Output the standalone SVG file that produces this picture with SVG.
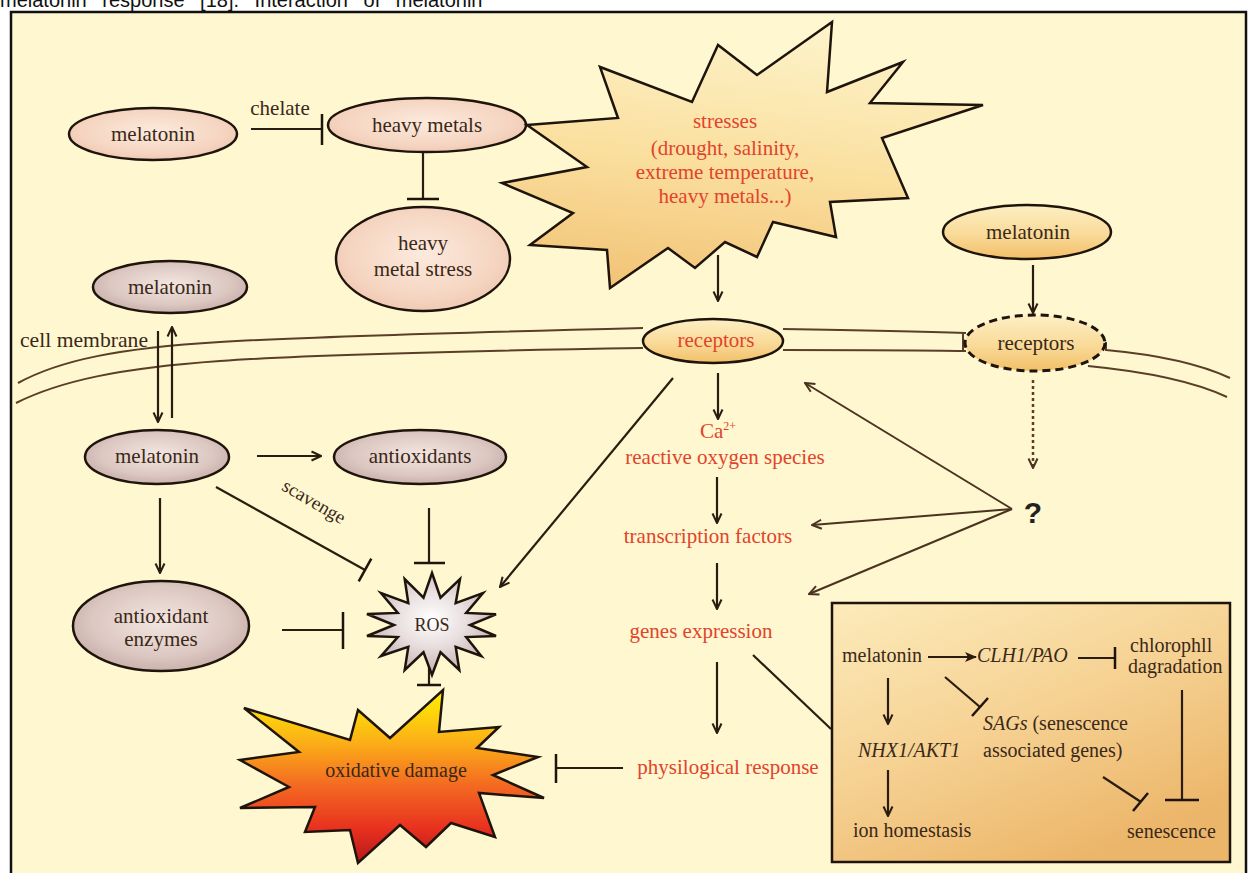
<svg xmlns="http://www.w3.org/2000/svg" width="1248" height="873" viewBox="0 0 1248 873">
<defs>
<style>
.lbl{font-family:"Liberation Serif","Times New Roman",serif;font-size:21px;fill:#3a2818;text-anchor:middle}
.red{font-family:"Liberation Serif","Times New Roman",serif;font-size:21px;fill:#e2432b;text-anchor:middle}
.bx{font-family:"Liberation Serif","Times New Roman",serif;font-size:20px;fill:#3a2818}
.it{font-style:italic}
.ln{stroke:#2a1c10;stroke-width:2.2;fill:none}
.lnb{stroke:#4a3420;stroke-width:2;fill:none}
.edge{stroke:#1f140b;stroke-width:2.5}
.mem{stroke:#5a3e26;stroke-width:2;fill:none}
</style>
<radialGradient id="gPink" cx="50%" cy="45%" r="60%"><stop offset="0" stop-color="#FCEADD"/><stop offset="0.7" stop-color="#F5D5C1"/><stop offset="1" stop-color="#EEC5AE"/></radialGradient>
<radialGradient id="gMauve" cx="50%" cy="45%" r="60%"><stop offset="0" stop-color="#F3E6E1"/><stop offset="0.65" stop-color="#DCC7C1"/><stop offset="1" stop-color="#C4AAA6"/></radialGradient>
<linearGradient id="gGold" x1="0" y1="0" x2="0" y2="1"><stop offset="0" stop-color="#FDEFC4"/><stop offset="0.55" stop-color="#F9DA98"/><stop offset="1" stop-color="#F2BF68"/></linearGradient>
<linearGradient id="gStress" x1="0.4" y1="0" x2="0.2" y2="1"><stop offset="0" stop-color="#FDF2C8"/><stop offset="0.5" stop-color="#FADF9E"/><stop offset="1" stop-color="#F2C275"/></linearGradient>
<radialGradient id="gROS" cx="50%" cy="45%" r="55%"><stop offset="0" stop-color="#FFFFFF"/><stop offset="0.5" stop-color="#E8DEDE"/><stop offset="1" stop-color="#C2B0B0"/></radialGradient>
<linearGradient id="gOx" x1="0" y1="0" x2="0" y2="1"><stop offset="0" stop-color="#FFF200"/><stop offset="0.3" stop-color="#FBB017"/><stop offset="0.55" stop-color="#F46A22"/><stop offset="0.8" stop-color="#E8311F"/><stop offset="1" stop-color="#B51818"/></linearGradient>
<linearGradient id="gBox" x1="0" y1="0" x2="0.6" y2="1"><stop offset="0" stop-color="#FCEBBB"/><stop offset="0.5" stop-color="#F6D395"/><stop offset="1" stop-color="#ECB66A"/></linearGradient>
<marker id="arr" viewBox="0 0 12 12" refX="11" refY="6" markerWidth="12" markerHeight="12" markerUnits="userSpaceOnUse" orient="auto"><path d="M1.5,1.5 L11,6 L1.5,10.5" fill="none" stroke="#2a1c10" stroke-width="2"/></marker>
<marker id="arrB" viewBox="0 0 12 12" refX="11" refY="6" markerWidth="12" markerHeight="12" markerUnits="userSpaceOnUse" orient="auto"><path d="M1.5,1.5 L11,6 L1.5,10.5" fill="none" stroke="#4a3420" stroke-width="2"/></marker>
<marker id="arrF" viewBox="0 0 12 12" refX="11" refY="6" markerWidth="12" markerHeight="12" markerUnits="userSpaceOnUse" orient="auto"><path d="M0,1 L12,6 L0,11 L3,6 z" fill="#2a1c10"/></marker>
</defs>

<rect x="0" y="0" width="1248" height="873" fill="#ffffff"/>
<text x="0" y="7" font-family="'Liberation Sans',Arial,sans-serif" font-size="20" word-spacing="10" fill="#111">melatonin response [18]. Interaction of melatonin</text>
<rect x="11" y="12" width="1235" height="863" fill="#FEF7D0" stroke="#111" stroke-width="2.5"/>

<g id="membrane">
<path class="mem" d="M18,383 C60,360 120,348 220,342 S520,331 643,328"/>
<path class="mem" d="M16,403 C60,381 120,368 220,361 S520,350 643,348"/>
<path class="mem" d="M783,329 C850,330 910,331 966,333"/>
<path class="mem" d="M783,350 C850,350 910,350 966,351"/>
<path class="mem" d="M963,333 L963,352"/>
<path class="mem" d="M1106,342 L1106,350 C1160,355 1200,364 1230,378"/>
<path class="mem" d="M1088,366 C1150,372 1195,382 1227,397"/>
</g>

<g id="connectors">
<line class="ln" x1="251" y1="129" x2="322" y2="129"/><line class="edge" x1="322" y1="114" x2="322" y2="145"/>
<line class="ln" x1="423" y1="153" x2="423" y2="199"/><line class="edge" x1="407" y1="199" x2="439" y2="199"/>
<line class="ln" x1="718" y1="255" x2="718" y2="301" marker-end="url(#arr)"/>
<line class="ln" x1="1033" y1="265" x2="1033" y2="313" marker-end="url(#arr)"/>
<line class="ln" x1="158" y1="331" x2="158" y2="422" marker-end="url(#arr)"/>
<line class="ln" x1="172" y1="418" x2="172" y2="327" marker-end="url(#arr)"/>
<line class="ln" x1="257" y1="456" x2="321" y2="456" marker-end="url(#arr)"/>
<line class="ln" x1="160" y1="498" x2="160" y2="573" marker-end="url(#arr)"/>
<line class="ln" x1="216" y1="487" x2="365" y2="570"/><line class="edge" x1="358.7" y1="581.4" x2="371.3" y2="558.6"/>
<line class="ln" x1="429" y1="508" x2="429" y2="563"/><line class="edge" x1="414" y1="563" x2="445" y2="563"/>
<line class="ln" x1="282" y1="630" x2="343" y2="630"/><line class="edge" x1="343" y1="612" x2="343" y2="649"/>
<line class="ln" x1="429" y1="658" x2="429" y2="685"/><line class="edge" x1="417" y1="685" x2="441" y2="685"/>
<line class="ln" x1="673" y1="378" x2="500" y2="587" marker-end="url(#arr)"/>
<line class="ln" x1="718" y1="373" x2="718" y2="419" marker-end="url(#arr)"/>
<line class="ln" x1="717" y1="477" x2="717" y2="523" marker-end="url(#arr)"/>
<line class="ln" x1="717" y1="563" x2="717" y2="609" marker-end="url(#arr)"/>
<line class="ln" x1="717" y1="662" x2="717" y2="733" marker-end="url(#arr)"/>
<line class="ln" x1="623" y1="768" x2="556" y2="768"/><line class="edge" x1="556" y1="754" x2="556" y2="783"/>
<line class="ln" x1="753" y1="655" x2="831" y2="729"/>
<line stroke="#5a3e26" stroke-width="2.5" stroke-dasharray="3,3" x1="1033" y1="380" x2="1033" y2="468" marker-end="url(#arrB)"/>
<line class="lnb" x1="1012" y1="509" x2="805" y2="383" marker-end="url(#arrB)"/>
<line class="lnb" x1="1012" y1="509" x2="812" y2="525" marker-end="url(#arrB)"/>
<line class="lnb" x1="1012" y1="509" x2="809" y2="594" marker-end="url(#arrB)"/>
</g>

<g id="node-melatonin-top">
<ellipse cx="153" cy="134" rx="84" ry="26" fill="url(#gPink)" class="edge"/>
<text class="lbl" x="153" y="141">melatonin</text>
</g>
<text class="lbl" x="280" y="115">chelate</text>
<g id="node-heavy-metals">
<ellipse cx="427" cy="125" rx="99" ry="27" fill="url(#gPink)" class="edge"/>
<text class="lbl" x="427" y="132">heavy metals</text>
</g>
<g id="node-heavy-metal-stress">
<ellipse cx="423" cy="259" rx="87" ry="52" fill="url(#gPink)" class="edge"/>
<text class="lbl" x="423" y="250">heavy</text>
<text class="lbl" x="423" y="276">metal stress</text>
</g>

<g id="node-stresses">
<polygon class="edge" fill="url(#gStress)" stroke-linejoin="miter" points="527,125 618,118 600,67 692,102 718,45 757,75 832,22 827,92 903,62 870,103 983,105 882,138 908,198 830,202 836,237 773,222 757,257 725,242 695,268 668,248 610,288 607,250 530,245 573,213 502,183 587,167"/>
<text class="red" x="725" y="128">stresses</text>
<text class="red" x="725" y="155">(drought, salinity,</text>
<text class="red" x="725" y="179">extreme temperature,</text>
<text class="red" x="725" y="203">heavy metals...)</text>
</g>

<g id="node-melatonin-right">
<ellipse cx="1027" cy="232" rx="84" ry="27" fill="url(#gGold)" class="edge"/>
<text class="lbl" x="1028" y="239">melatonin</text>
</g>
<g id="node-receptors">
<ellipse cx="713" cy="341" rx="70" ry="22" fill="url(#gGold)" class="edge"/>
<text class="red" x="716" y="347">receptors</text>
</g>
<g id="node-receptors-dashed">
<ellipse cx="1035" cy="343" rx="70" ry="28" fill="url(#gGold)" stroke="#1f140b" stroke-width="3" stroke-dasharray="8,5"/>
<text class="lbl" x="1036" y="350">receptors</text>
</g>
<text class="lbl" x="20" y="347" style="text-anchor:start" textLength="128" lengthAdjust="spacingAndGlyphs">cell membrane</text>

<g id="node-melatonin-outside">
<ellipse cx="170" cy="287" rx="77" ry="26" fill="url(#gMauve)" class="edge"/>
<text class="lbl" x="170" y="294">melatonin</text>
</g>
<g id="node-melatonin-inside">
<ellipse cx="157" cy="457" rx="72" ry="27" fill="url(#gMauve)" class="edge"/>
<text class="lbl" x="157" y="463">melatonin</text>
</g>
<g id="node-antioxidants">
<ellipse cx="420" cy="457" rx="86" ry="27" fill="url(#gMauve)" class="edge"/>
<text class="lbl" x="420" y="463">antioxidants</text>
</g>
<g id="node-antioxidant-enzymes">
<ellipse cx="161" cy="626" rx="88" ry="45" fill="url(#gMauve)" class="edge"/>
<text class="lbl" x="161" y="623">antioxidant</text>
<text class="lbl" x="161" y="646">enzymes</text>
</g>
<text class="lbl" x="0" y="0" transform="translate(311,507) rotate(30)" style="font-size:19px">scavenge</text>

<g id="node-ros">
<polygon class="edge" fill="url(#gROS)" points="432,573 440.5,597.7 460,579 455.7,603.1 483,593 466.2,612.9 496,614.3 470,625 496,636 466.2,637.1 481.3,656 455.7,646.9 459.3,670 440.5,652.3 432,675 423.5,652.3 404.7,670 408.3,646.9 381,656 397.8,637.1 367,636 394,625 367,614 397.8,612.9 381,593 408.3,603.1 404.7,579 423.5,597.7"/>
<text class="lbl" x="432" y="631" style="font-size:18px">ROS</text>
</g>

<g id="node-oxidative-damage">
<polygon class="edge" fill="url(#gOx)" points="244,708 350,740 358,710 390,738 443,690 439,732 499,727 477,748 538,757 493,775 544,798 479,793 495,837 451,823 426,847 400,825 358,863 350,830 305,832 315,807 240,808 289,787 240,760 299,752"/>
<text class="lbl" x="396" y="777" style="font-size:20px">oxidative  damage</text>
</g>

<g id="node-ca-ros">
<text class="red" x="718" y="438">Ca<tspan font-size="12" dy="-8">2+</tspan></text>
<text class="red" x="725" y="464">reactive oxygen species</text>
</g>
<g id="node-transcription"><text class="red" x="708" y="543">transcription factors</text></g>
<g id="node-genes"><text class="red" x="701" y="638">genes expression</text></g>
<g id="node-physiological"><text class="red" x="728" y="774">physilogical response</text></g>
<g id="node-question"><text x="1033" y="523" font-family="'Liberation Sans',Arial,sans-serif" font-size="30" font-weight="bold" fill="#222" text-anchor="middle">?</text></g>

<g id="node-senescence-box">
<rect x="832" y="603" width="398" height="259" fill="url(#gBox)" class="edge"/>
<text class="bx" x="842" y="662">melatonin</text>
<text class="bx it" x="977" y="662">CLH1/PAO</text>
<text class="bx" x="1130" y="652">chlorophll</text>
<text class="bx" x="1128" y="673">dagradation</text>
<text class="bx" x="983" y="730"><tspan class="it">SAGs</tspan> (senescence</text>
<text class="bx" x="983" y="757">associated genes)</text>
<text class="bx it" x="858" y="757">NHX1/AKT1</text>
<text class="bx" x="853" y="837">ion homestasis</text>
<text class="bx" x="1127" y="838">senescence</text>
<g class="box-connectors">
<line class="ln" x1="928" y1="657" x2="976" y2="657" marker-end="url(#arrF)"/>
<line class="ln" x1="1078" y1="658" x2="1115" y2="658"/><line class="edge" x1="1115" y1="647" x2="1115" y2="669"/>
<line class="ln" x1="888" y1="678" x2="888" y2="724" marker-end="url(#arr)"/>
<line class="ln" x1="945" y1="677" x2="980" y2="707"/><line class="edge" x1="972" y1="716" x2="988" y2="698"/>
<line class="ln" x1="888" y1="770" x2="888" y2="816" marker-end="url(#arr)"/>
<line class="ln" x1="1103" y1="777" x2="1141" y2="802"/><line class="edge" x1="1133" y1="811" x2="1148" y2="793"/>
<line class="ln" x1="1182" y1="690" x2="1182" y2="800"/><line class="edge" x1="1165" y1="800" x2="1199" y2="800"/>
</g>
</g>
</svg>
